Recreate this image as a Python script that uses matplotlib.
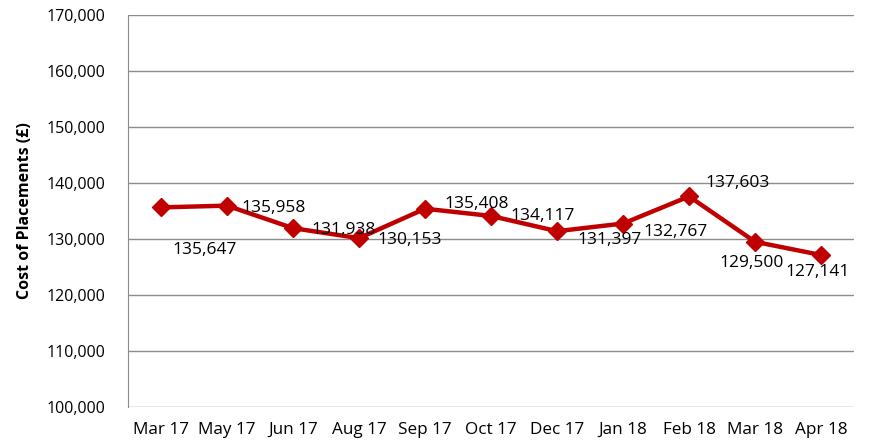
import matplotlib.pyplot as plt
from matplotlib.ticker import FuncFormatter

months = ['Mar 17', 'May 17', 'Jun 17', 'Aug 17', 'Sep 17', 'Oct 17',
          'Dec 17', 'Jan 18', 'Feb 18', 'Mar 18', 'Apr 18']
cost = [135647, 135958, 131938, 130153, 135408, 134117,
        131397, 132767, 137603, 129500, 127141]

# where each data label sits relative to its point (pixels)
label_offsets = [(44, -43), (47, -2), (51, -2), (51, -2), (52, 5), (52, 0),
                 (52, -9), (52, -8), (49, 13), (-3, -21), (-3, -17)]

plt.rcParams['font.family'] = ['Open Sans', 'DejaVu Sans']

fig = plt.figure(figsize=(8.86, 4.44), dpi=100)
ax = fig.add_axes([0.1445, 0.0833, 0.8195, 0.8829])

x = list(range(len(months)))
ax.plot(x, cost, color='#C00000', linewidth=3.2, marker='D', markersize=9,
        zorder=3)

for i, v in enumerate(cost):
    dx, dy = label_offsets[i]
    ax.annotate('{:,}'.format(v), (x[i], v), xytext=(dx, dy),
                textcoords='offset pixels', ha='center', va='center',
                fontsize=12.5, color='black', zorder=4)

ax.set_xlim(-0.5, len(months) - 0.5)
ax.set_ylim(100000, 170000)
ax.set_yticks(range(100000, 170001, 10000))
ax.yaxis.set_major_formatter(FuncFormatter(lambda v, p: '{:,}'.format(int(v))))
ax.set_xticks(x)
ax.set_xticklabels(months)
ax.tick_params(length=0)
ax.tick_params(axis='y', labelsize=11.5, pad=16)
ax.tick_params(axis='x', labelsize=12.3, pad=11)
ax.grid(axis='y', color='#8c8c8c', linewidth=1)
ax.set_axisbelow(True)
for s in ['top', 'right', 'bottom']:
    ax.spines[s].set_visible(False)
ax.spines['left'].set_color('#8c8c8c')
ax.set_ylabel('Cost of Placements (£)', fontsize=11.5, fontweight='bold',
              labelpad=10)

fig.savefig('out.png', dpi=100)
